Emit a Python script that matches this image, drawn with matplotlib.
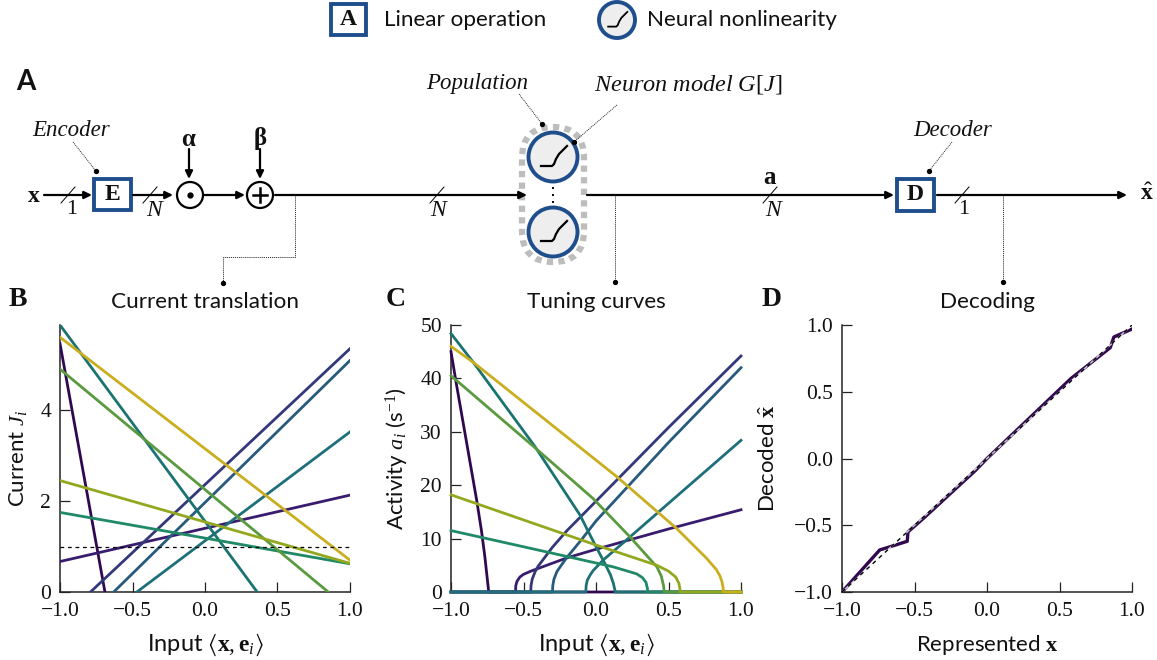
import matplotlib
matplotlib.use("Agg")
import matplotlib.pyplot as plt
from matplotlib.patches import Circle, Rectangle, FancyBboxPatch

W, H = 1157, 660
plt.rcParams.update({
    'font.family': 'Lato',
    'mathtext.fontset': 'custom',
    'mathtext.rm': 'Liberation Serif',
    'mathtext.it': 'Liberation Serif:italic',
    'mathtext.bf': 'Liberation Serif:bold',
    'mathtext.fallback': 'stix',
})
SERIF = 'Liberation Serif'
INK = '#111111'
BLUE = '#1f4e8c'

# ---------- data ----------
colors = ['#31084f', '#3a1c6e', '#33387a', '#275a7c', '#1f6f7a',
          '#1a7370', '#1f8a65', '#5a9a3f', '#93a81f', '#c9ae1f']

# panel B: current vs input
j_x1 = [-1.0, -1.0, -0.79, -0.63, -0.47, -1.0, -1.0, -1.0, -1.0, -1.0]
j_y1 = [5.46, 0.67, 0.0, 0.0, 0.0, 5.87, 1.75, 4.9, 2.45, 5.6]
j_x2 = [-0.69, 1.0, 1.0, 1.0, 1.0, 0.36, 1.0, 0.85, 1.0, 1.0]
j_y2 = [0.0, 2.13, 5.35, 5.09, 3.52, 0.0, 0.62, 0.0, 0.63, 0.7]
threshold = 1.0

# panel C: activity vs input
a_x = [
    [-1.0, -0.96, -0.915, -0.87, -0.823, -0.79, -0.766, -0.75, -0.743, -0.74, 1.0],
    [-1.0, -0.555, -0.553, -0.545, -0.525, -0.5, -0.45, -0.4, -0.2, 0.0, 0.5, 1.0],
    [-1.0, -0.45, -0.448, -0.44, -0.42, -0.4, -0.3, -0.2, 0.0, 0.5, 1.0],
    [-1.0, -0.30, -0.298, -0.29, -0.27, -0.25, -0.2, -0.1, 0.0, 0.5, 1.0],
    [-1.0, -0.07, -0.068, -0.06, -0.04, -0.02, 0.05, 0.2, 0.5, 1.0],
    [-1.0, -0.846, -0.42, -0.11, -0.064, 0.0, 0.06, 0.1, 0.12, 0.13, 0.132, 1.0],
    [-1.0, -0.34, 0.12, 0.28, 0.32, 0.345, 0.355, 0.357, 1.0],
    [-1.0, -0.42, -0.02, 0.235, 0.42, 0.45, 0.465, 0.47, 0.472, 1.0],
    [-1.0, 0.005, 0.42, 0.5, 0.55, 0.572, 0.58, 0.582, 1.0],
    [-1.0, -0.846, 0.143, 0.556, 0.763, 0.83, 0.855, 0.87, 0.877, 0.879, 1.0],
]
a_y = [
    [45.0, 38.5, 31.5, 24.5, 17.2, 11.5, 6.5, 2.5, 0.8, 0.0, 0.0],
    [0.0, 0.0, 1.2, 2.0, 2.8, 3.3, 3.9, 4.4, 6.4, 8.0, 11.8, 15.4],
    [0.0, 0.0, 1.2, 2.4, 3.8, 4.8, 8.4, 11.5, 17.0, 30.8, 44.2],
    [0.0, 0.0, 1.2, 2.4, 3.8, 4.6, 6.5, 9.8, 13.3, 28.0, 42.0],
    [0.0, 0.0, 1.2, 2.2, 3.2, 4.0, 6.0, 9.5, 16.6, 28.4],
    [48.4, 43.0, 27.2, 14.4, 11.9, 8.5, 5.4, 3.2, 1.6, 0.4, 0.0, 0.0],
    [11.5, 7.5, 4.7, 3.4, 2.7, 1.8, 0.6, 0.0, 0.0],
    [40.5, 27.0, 17.5, 10.3, 4.7, 3.0, 1.3, 0.3, 0.0, 0.0],
    [18.2, 8.75, 5.0, 3.9, 2.8, 1.6, 0.4, 0.0, 0.0],
    [46.0, 43.0, 21.6, 11.9, 6.3, 4.2, 3.0, 1.8, 0.7, 0.0, 0.0],
]

# panel D: decoded vs represented
x_rep = [-1.0, -0.74, -0.68, -0.55, -0.545, -0.43, -0.30, -0.08, 0.0, 0.58, 0.85, 0.875, 1.0]
x_dec = [-1.0, -0.685, -0.665, -0.62, -0.55, -0.44, -0.31, -0.09, 0.0, 0.60, 0.83, 0.91, 0.97]
ideal = [-1.0, 1.0]

x_ticks = [-1.0, -0.5, 0.0, 0.5, 1.0]
b_yticks = [0, 2, 4]
c_yticks = [0, 10, 20, 30, 40, 50]
d_yticks = [-1.0, -0.5, 0.0, 0.5, 1.0]

# ---------- figure ----------
fig = plt.figure(figsize=(W / 100, H / 100), dpi=100)


def mkax(x0, x1, y0, y1):
    return fig.add_axes([x0 / W, 1 - y1 / H, (x1 - x0) / W, (y1 - y0) / H])


def fmt(v):
    return f'{v:.1f}'.replace('-', '\u2212')


def style(ax, yt, ylabels, xlabel, ylabel, ylab_px, xfs=16):
    ax.spines[['top', 'right']].set_visible(False)
    ax.spines[['left', 'bottom']].set_linewidth(1.1)
    ax.spines[['left', 'bottom']].set_color('#222222')
    ax.set_xlim(-1, 1)
    ax.set_xticks(x_ticks, [fmt(v) for v in x_ticks], family=SERIF, fontsize=15.5)
    ax.set_yticks(yt, ylabels, family=SERIF, fontsize=15.5)
    ax.tick_params(direction='in', length=7, width=0.9, color='#222222', labelcolor=INK)
    ax.tick_params(axis='x', pad=7)
    ax.tick_params(axis='y', pad=6.5)
    ax.set_xlabel(xlabel, fontsize=xfs, color=INK, va='center')
    ax.xaxis.set_label_coords(0.5, -53 / 267)
    ax.set_ylabel(ylabel, fontsize=16, color=INK, va='center', ha='center')
    ax.yaxis.set_label_coords(ylab_px / 290, 0.5)
    for s in ax.spines.values():
        s.set_zorder(1)


INPUT = r'Input $\langle\mathbf{x},\mathbf{e}_i\rangle$'

axB = mkax(60, 350, 325, 592)
for x1, y1, x2, y2, c in zip(j_x1, j_y1, j_x2, j_y2, colors):
    axB.plot([x1, x2], [y1, y2], color=c, lw=2.0, clip_on=True, zorder=3)
axB.axhline(threshold, color='k', lw=0.9, ls=(0, (3, 3)), zorder=4)
axB.set_ylim(0, 5.87)
style(axB, b_yticks, [str(v) for v in b_yticks], INPUT, r'Current $J_i$', 18 - 60, 17)

axC = mkax(451, 741, 325, 592)
for xs, ys, c in zip(a_x, a_y, colors):
    axC.plot(xs, ys, color=c, lw=2.0, clip_on=False, zorder=3, solid_joinstyle='round')
axC.set_ylim(0, 50)
style(axC, c_yticks, [str(v) for v in c_yticks], INPUT, r'Activity $a_i$ (s$^{-1}$)', 397 - 451, 17)

axD = mkax(842, 1132, 325, 592)
axD.plot(x_rep, x_dec, color=colors[0], lw=2.4, zorder=3)
axD.plot(ideal, ideal, color='white', lw=1.1, zorder=4, alpha=0.75)
axD.plot(ideal, ideal, color='k', lw=1.0, ls=(0, (3, 3)), zorder=5)
axD.set_ylim(-1, 1)
style(axD, d_yticks, [fmt(v) for v in d_yticks], r'Represented $\mathbf{x}$', r'Decoded $\hat{\mathbf{x}}$', 768 - 842)

# ---------- schematic overlay in pixel coordinates ----------
ov = fig.add_axes([0, 0, 1, 1], zorder=10)
ov.set_xlim(0, W)
ov.set_ylim(H, 0)
ov.axis('off')
ov.patch.set_alpha(0)

Y = 195


def arrow(x0, y0, x1, y1):
    ov.annotate('', xy=(x1, y1), xytext=(x0, y0),
                arrowprops=dict(arrowstyle='-|>,head_length=0.45,head_width=0.22', color='k', lw=1.6,
                                shrinkA=0, shrinkB=0))


def slash(x):
    ov.plot([x - 7, x + 7], [Y + 8, Y - 8], color='k', lw=0.7)


def leader(xs, ys, dot=True):
    ov.plot(xs, ys, color='#222222', lw=0.7, ls=(0, (1, 1)))
    if dot:
        ov.plot([xs[-1]], [ys[-1]], 'o', color='k', ms=2.8)


def box(x0, x1, y0, y1, s, fs=17):
    ov.add_patch(Rectangle((x0, y0), x1 - x0, y1 - y0, fc='white', ec=BLUE, lw=2.8))
    ov.text((x0 + x1) / 2, (y0 + y1) / 2, s, family=SERIF, weight='bold', fontsize=fs, ha='center', va='center', color=INK)


def neuron(cx, cy, r, lw=2.8):
    ov.add_patch(Circle((cx, cy), r, fc='#eeeeee', ec=BLUE, lw=lw))
    k = r / 24.5
    gx = [-12, -1, 1, 3, 6, 10, 14]
    gy = [9, 9, 7, 2, -3, -7, -11]
    ov.plot([cx + k * a for a in gx], [cy + k * b for b in gy], color='k', lw=1.6 if r > 20 else 1.3,
            solid_joinstyle='round')


def italic(x, y, s, fs=16.5):
    ov.text(x, y, s, family=SERIF, style='italic', fontsize=fs, ha='center', va='center', color=INK)


# legend
box(331, 366, 4, 35, 'A')
ov.text(384, 20, 'Linear operation', fontsize=16.2, va='center', color=INK)
neuron(617, 20, 18)
ov.text(647, 20, 'Neural nonlinearity', fontsize=16.2, va='center', color=INK)

# panel letters
ov.text(16, 82, 'A', fontsize=20, weight='bold', va='center', color=INK)
ov.text(9, 300, 'B', family=SERIF, fontsize=20, weight='bold', va='center', color=INK)
ov.text(386, 300, 'C', family=SERIF, fontsize=20, weight='bold', va='center', color=INK)
ov.text(762, 300, 'D', family=SERIF, fontsize=20, weight='bold', va='center', color=INK)

# titles
ov.text(205, 302, 'Current translation', fontsize=16.2, ha='center', va='center', color=INK)
ov.text(596, 302, 'Tuning curves', fontsize=16.2, ha='center', va='center', color=INK)
ov.text(987, 302, 'Decoding', fontsize=16.2, ha='center', va='center', color=INK)

# main path
ov.text(34, 195, r'$\mathbf{x}$', fontsize=17, ha='center', va='center', color=INK)
arrow(44, Y, 92, Y)
slash(68)
ov.text(72, 209, '1', family=SERIF, fontsize=16, ha='center', va='center', color=INK)
box(94, 131, 179, 210, 'E')
arrow(133, Y, 173, Y)
slash(150)
italic(154, 211, 'N', 17)
ov.add_patch(Circle((190, Y), 13, fc='white', ec='k', lw=1.6))
ov.plot([190], [Y], 'o', color='k', ms=3.5)
arrow(204, Y, 245, Y)
ov.add_patch(Circle((260, Y), 13, fc='white', ec='k', lw=1.6))
ov.plot([253, 267], [Y, Y], color='k', lw=1.8)
ov.plot([260, 260], [Y - 7, Y + 7], color='k', lw=1.8)
ov.text(189, 138, r'$\mathbf{\alpha}$', fontsize=18, ha='center', va='center', color=INK)
ov.text(260, 138, r'$\mathbf{\beta}$', fontsize=18, ha='center', va='center', color=INK)
arrow(189, 149, 189, 179)
arrow(260, 149, 260, 179)
arrow(275, Y, 527, Y)
slash(437)
italic(438, 211, 'N', 17)

# population
ov.add_patch(FancyBboxPatch((522 + 31, 127 + 31), 0, 135 - 62,
                            boxstyle='round,pad=31,rounding_size=31',
                            fc='none', ec='#bdbdbd', lw=4.5, ls=(0, (1.0, 0.85))))
neuron(553, 157, 24.5)
neuron(553, 232, 24.5)
ov.plot([553, 553], [187, 203], color='k', lw=1.4, ls=(0, (1, 2.6)))

# right path
arrow(587, Y, 894, Y)
slash(770)
ov.text(770, 176, r'$\mathbf{a}$', fontsize=18, ha='center', va='center', color=INK)
italic(773, 211, 'N', 17)
box(897, 934, 179, 211, 'D')
arrow(937, Y, 1127, Y)
slash(962)
ov.text(964, 209, '1', family=SERIF, fontsize=16, ha='center', va='center', color=INK)
ov.text(1147, 193, r'$\hat{\mathbf{x}}$', fontsize=17, ha='center', va='center', color=INK)

# annotations
italic(71, 131, 'Encoder')
leader([73, 96], [142, 171])
italic(477, 84, 'Population')
leader([519, 542], [94, 124])
ov.text(688, 84, r'$\mathit{Neuron\ model}\ G[J]$', fontsize=17.5, ha='center', va='center', color=INK)
leader([617, 574], [105, 142])
italic(953, 131, 'Decoder')
leader([952, 929], [142, 171])
leader([295, 295, 223, 223], [196, 257, 257, 283])
leader([615, 615], [196, 282])
leader([1003, 1003], [196, 282])

fig.savefig('out.png', dpi=100)
